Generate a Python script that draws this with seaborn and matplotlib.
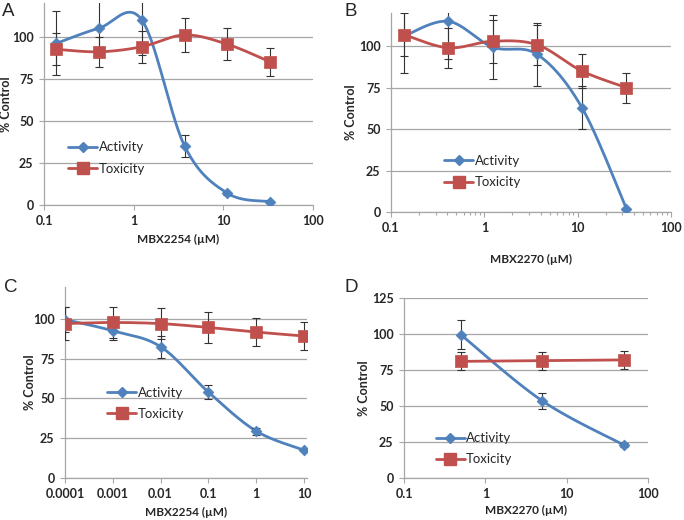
import numpy as np
import pandas as pd
import matplotlib
matplotlib.use("Agg")
import matplotlib.pyplot as plt
from matplotlib.lines import Line2D
from matplotlib.ticker import FixedLocator, NullLocator, LogLocator, NullFormatter
import seaborn as sns

sns.set_theme(style="white")
plt.rcParams['font.family'] = ['Lato', 'DejaVu Sans']

# ---------------- data ----------------
conc_A = [0.137, 0.41, 1.23, 3.7, 11.1, 33.3]
act_A = [96, 105, 110, 35, 7, 2]
act_err_A = [19, 17, 21, 6.7, 0.8, 0.5]
tox_A = [92.5, 91, 94, 101, 95.5, 85]
tox_err_A = [9.5, 9, 9.5, 10, 9.5, 8.5]

conc_B = [0.137, 0.41, 1.23, 3.7, 11.1, 33.3]
act_B = [106, 115, 99.4, 95, 63, 2]
act_err_B = [22, 23, 19.5, 19, 13, 0.5]
tox_B = [107, 99, 103, 100.8, 85, 75]
tox_err_B = [13, 12, 13, 12, 10.5, 9]

conc_C = [0.0001, 0.001, 0.01, 0.1, 1, 10]
act_C = [99.5, 92.5, 82.5, 54, 29.5, 17.5]
act_err_C = [8, 6, 7, 4.5, 2.2, 0.8]
tox_C = [97, 97.7, 97, 94.6, 91.7, 89.2]
tox_err_C = [10.5, 10, 9.5, 9.5, 9, 8.8]

conc_D = [0.5, 5, 50]
act_D = [99.5, 53.6, 23]
act_err_D = [10, 5.7, 1.5]
tox_D = [81, 81.5, 82]
tox_err_D = [6.3, 6.3, 6.5]

BLUE = "#4F81BD"
RED = "#C0504D"
GRID = "#A6A6A6"


def smooth(x, y, n=40):
    """Excel-style (Catmull-Rom) smoothing in log-x space."""
    lx = np.log10(np.asarray(x, float))
    yy = np.asarray(y, float)
    P = np.column_stack([lx, yy])
    out = []
    for i in range(len(P) - 1):
        p0 = P[i - 1] if i > 0 else P[i]
        p1, p2 = P[i], P[i + 1]
        p3 = P[i + 2] if i + 2 < len(P) else P[i + 1]
        c1 = p1 + (p2 - p0) / 6.0
        c2 = p2 - (p3 - p1) / 6.0
        t = np.linspace(0, 1, n)[:, None]
        seg = ((1 - t) ** 3) * p1 + 3 * ((1 - t) ** 2) * t * c1 + 3 * (1 - t) * t ** 2 * c2 + t ** 3 * p2
        out.append(seg if i == 0 else seg[1:])
    S = np.vstack(out)
    return 10 ** S[:, 0], S[:, 1]


def panel(fig, rect, conc, act, act_err, tox, tox_err, xlim, ylim, yticks, xticks,
          xticklabels, xlabel, letter, letter_pos, minor, legend_pos, xlabel_y, ylabel_x):
    ax = fig.add_axes(rect)
    ax.set_xscale("log")
    ax.set_xlim(*xlim)
    ax.set_ylim(*ylim)
    for yt in yticks:
        ax.axhline(yt, color=GRID, lw=0.9, zorder=0)

    for vals, err, col, mk, ms in [(act, act_err, BLUE, "D", 5.5), (tox, tox_err, RED, "s", 8.5)]:
        sx, sy = smooth(conc, vals)
        df = pd.DataFrame({"x": sx, "y": sy})
        sns.lineplot(data=df, x="x", y="y", ax=ax, color=col, lw=2.0, sort=False,
                     estimator=None, zorder=3)
        ax.errorbar(conc, vals, yerr=err, fmt="none", ecolor="#333333", elinewidth=0.8,
                    capsize=3, capthick=0.8, zorder=4)
        pdf = pd.DataFrame({"x": conc, "y": vals})
        sns.scatterplot(data=pdf, x="x", y="y", ax=ax, color=col, marker=mk, s=ms ** 2,
                        edgecolor=col, linewidth=0.5, zorder=5)

    ax.set_yticks(yticks)
    ax.set_yticklabels([str(v) for v in yticks], fontsize=9, fontweight="bold")
    ax.xaxis.set_major_locator(FixedLocator(xticks))
    ax.set_xticklabels(xticklabels, fontsize=9, fontweight="bold")
    if minor:
        ax.xaxis.set_minor_locator(LogLocator(base=10, subs=np.arange(2, 10)))
    else:
        ax.xaxis.set_minor_locator(NullLocator())
    ax.xaxis.set_minor_formatter(NullFormatter())
    ax.tick_params(axis="both", which="major", length=3.5, width=0.8, color=GRID,
                   direction="out", pad=4, left=True, bottom=True)
    ax.tick_params(axis="x", which="minor", length=2.5, width=0.8, color=GRID, direction="out",
                   bottom=True)
    for s in ["top", "right"]:
        ax.spines[s].set_visible(False)
    for s in ["left", "bottom"]:
        ax.spines[s].set_color(GRID)
        ax.spines[s].set_linewidth(0.9)
    ax.set_xlabel("")
    ax.set_ylabel("")
    ax.grid(False)

    fig.text(rect[0] + rect[2] / 2, xlabel_y, xlabel, ha="center", va="center",
             fontsize=8.5, fontweight="bold")
    fig.text(ylabel_x, rect[1] + rect[3] / 2, "% Control", ha="center", va="center",
             rotation=90, fontsize=9, fontweight="bold")
    fig.text(letter_pos[0], letter_pos[1], letter, ha="left", va="center", fontsize=13.5,
             family=["Liberation Sans", "DejaVu Sans"])

    handles = [Line2D([], [], color=BLUE, lw=2, marker="D", ms=5, label="Activity"),
               Line2D([], [], color=RED, lw=2, marker="s", ms=8, label="Toxicity")]
    ax.legend(handles=handles, loc="lower left", bbox_to_anchor=legend_pos, frameon=False,
              fontsize=9.5, handlelength=2.2, handletextpad=0.1, labelspacing=0.7,
              borderaxespad=0, borderpad=0)
    return ax


fig = plt.figure(figsize=(6.84, 5.2), dpi=100)
W, H = 684.0, 520.0


def rect(l, r, t, b):
    return [l / W, 1 - b / H, (r - l) / W, (b - t) / H]


panel(fig, rect(44, 313, 3, 205), conc_A, act_A, act_err_A, tox_A, tox_err_A,
      (0.1, 100), (0, 120), [0, 25, 50, 75, 100], [0.1, 1, 10, 100],
      ["0.1", "1", "10", "100"], "MBX2254 (\u00b5M)", "A", (2 / W, 1 - 12 / H), False,
      (0.09, 0.15), 1 - 239 / H, 6 / W)

panel(fig, rect(391, 671, 13, 212), conc_B, act_B, act_err_B, tox_B, tox_err_B,
      (0.1, 100), (0, 120), [0, 25, 50, 75, 100], [0.1, 1, 10, 100],
      ["0.1", "1", "10", "100"], "MBX2270 (\u00b5M)", "B", (344 / W, 1 - 12 / H), True,
      (0.19, 0.12), 1 - 259 / H, 351 / W)

panel(fig, rect(65, 307, 287, 478), conc_C, act_C, act_err_C, tox_C, tox_err_C,
      (0.0001, 11.6), (0, 120), [0, 25, 50, 75, 100], [0.0001, 0.001, 0.01, 0.1, 1, 10],
      ["0.0001", "0.001", "0.01", "0.1", "1", "10"], "MBX2254 (\u00b5M)", "C",
      (4 / W, 1 - 287 / H), False, (0.175, 0.305), 1 - 512 / H, 30 / W)

panel(fig, rect(404, 648, 298, 478), conc_D, act_D, act_err_D, tox_D, tox_err_D,
      (0.1, 100), (0, 125), [0, 25, 50, 75, 100, 125], [0.1, 1, 10, 100],
      ["0.1", "1", "10", "100"], "MBX2270 (\u00b5M)", "D", (345 / W, 1 - 287 / H), False,
      (0.13, 0.07), 1 - 510 / H, 364 / W)

fig.savefig("out.png", dpi=100)
